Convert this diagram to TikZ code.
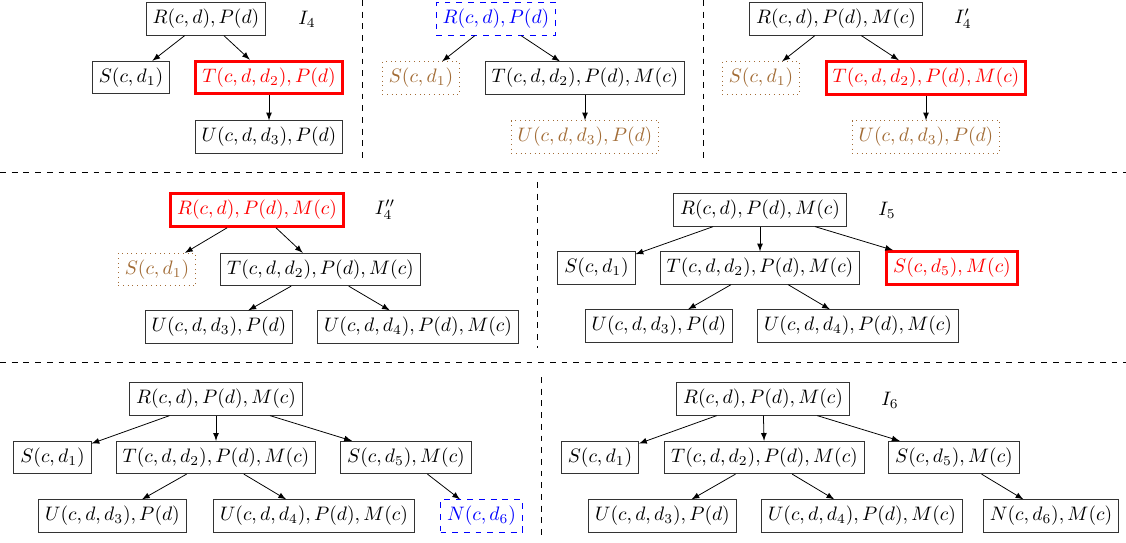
\documentclass[tikz,border=0pt]{standalone}
\usepackage{tikz}
\tikzstyle{atom}=[rectangle,draw=black!80]
\tikzstyle{focus}=[rectangle,draw=red,text=red,ultra thick]
\tikzstyle{pending}=[rectangle,draw=blue,text=blue,dashed]
\tikzstyle{pruned}=[rectangle,draw=brown!85!black,text=brown!85!black,dotted]
\tikzstyle{link}=[-latex]
\tikzstyle{sep}=[dashed]

\begin{document}
\begin{tikzpicture}[x=0.5128pt,y=-0.5128pt]
  \useasboundingbox (0,0) rectangle (1126,543);

  % I_4
  \node[atom] (a R) at (206,19) {$R(c,d),P(d)$};
  \node (a label) at (307,19) {$I_4$};
  \node[atom] (a S) at (131,77.5) {$S(c,d_1)$};
  \node[focus] (a T) at (269,77.5) {$T(c,d,d_2),P(d)$};
  \node[atom] (a U) at (269,137) {$U(c,d,d_3),P(d)$};

  % blue root
  \node[pending] (b R) at (496,19) {$R(c,d),P(d)$};
  \node[pruned] (b S) at (421,78) {$S(c,d_1)$};
  \node[atom] (b T) at (585,78) {$T(c,d,d_2),P(d),M(c)$};
  \node[pruned] (b U) at (585,137) {$U(c,d,d_3),P(d)$};

  % I_4'
  \node[atom] (c R) at (836,19) {$R(c,d),P(d),M(c)$};
  \node (c label) at (963,19) {$I_4'$};
  \node[pruned] (c S) at (761,78) {$S(c,d_1)$};
  \node[focus] (c T) at (926,78) {$T(c,d,d_2),P(d),M(c)$};
  \node[pruned] (c U) at (926,137) {$U(c,d,d_3),P(d)$};

  \foreach \p in {a,b,c} {
    \draw[link] (\p\space R) -- (\p\space S);
    \draw[link] (\p\space R) -- (\p\space T);
    \draw[link] (\p\space T) -- (\p\space U);
  }

  % I_4''
  \node[focus] (d R) at (257,210) {$R(c,d),P(d),M(c)$};
  \node (d label) at (385,210) {$I_4''$};
  \node[pruned] (d S) at (157,269.5) {$S(c,d_1)$};
  \node[atom] (d T) at (320.5,269.5) {$T(c,d,d_2),P(d),M(c)$};
  \node[atom] (d U3) at (219,327) {$U(c,d,d_3),P(d)$};
  \node[atom] (d U4) at (418,327) {$U(c,d,d_4),P(d),M(c)$};

  % I_5
  \node[atom] (e R) at (760,210) {$R(c,d),P(d),M(c)$};
  \node (e label) at (887,210) {$I_5$};
  \node[atom] (e S) at (596.5,268) {$S(c,d_1)$};
  \node[atom] (e T) at (760,268) {$T(c,d,d_2),P(d),M(c)$};
  \node[focus] (e S5) at (952,268) {$S(c,d_5),M(c)$};
  \node[atom] (e U3) at (659,326) {$U(c,d,d_3),P(d)$};
  \node[atom] (e U4) at (858,326) {$U(c,d,d_4),P(d),M(c)$};

  \foreach \p in {d,e} {
    \draw[link] (\p\space R) -- (\p\space S);
    \draw[link] (\p\space R) -- (\p\space T);
    \draw[link] (\p\space T) -- (\p\space U3);
    \draw[link] (\p\space T) -- (\p\space U4);
  }
  \draw[link] (e R) -- (e S5);

  % blue leaf
  \node[atom] (f R) at (216,399) {$R(c,d),P(d),M(c)$};
  \node[atom] (f S) at (52.5,457.5) {$S(c,d_1)$};
  \node[atom] (f T) at (216,457.5) {$T(c,d,d_2),P(d),M(c)$};
  \node[atom] (f S5) at (406,457.5) {$S(c,d_5),M(c)$};
  \node[atom] (f U3) at (112.5,516) {$U(c,d,d_3),P(d)$};
  \node[atom] (f U4) at (314,516) {$U(c,d,d_4),P(d),M(c)$};
  \node[pending] (f N) at (481.5,516) {$N(c,d_6)$};

  % I_6
  \node[atom] (g R) at (763,399) {$R(c,d),P(d),M(c)$};
  \node (g label) at (890,400) {$I_6$};
  \node[atom] (g S) at (600,457.5) {$S(c,d_1)$};
  \node[atom] (g T) at (764.5,457.5) {$T(c,d,d_2),P(d),M(c)$};
  \node[atom] (g S5) at (954,457.5) {$S(c,d_5),M(c)$};
  \node[atom] (g U3) at (662.5,516) {$U(c,d,d_3),P(d)$};
  \node[atom] (g U4) at (862,516) {$U(c,d,d_4),P(d),M(c)$};
  \node[atom] (g N) at (1051,516) {$N(c,d_6),M(c)$};

  \foreach \p in {f,g} {
    \foreach \a/\b in {R/S,R/T,R/S5,T/U3,T/U4,S5/N}
      \draw[link] (\p\space\a) -- (\p\space\b);
  }

  % separators
  \draw[sep] (0,172.7) -- (1126,172.7);
  \draw[sep] (0,362) -- (1126,362);
  \draw[sep] (362.7,0) -- (362.7,158);
  \draw[sep] (703,0) -- (703,158);
  \draw[sep] (537,182) -- (537,348);
  \draw[sep] (541.7,377) -- (541.7,540);
\end{tikzpicture}
\end{document}
